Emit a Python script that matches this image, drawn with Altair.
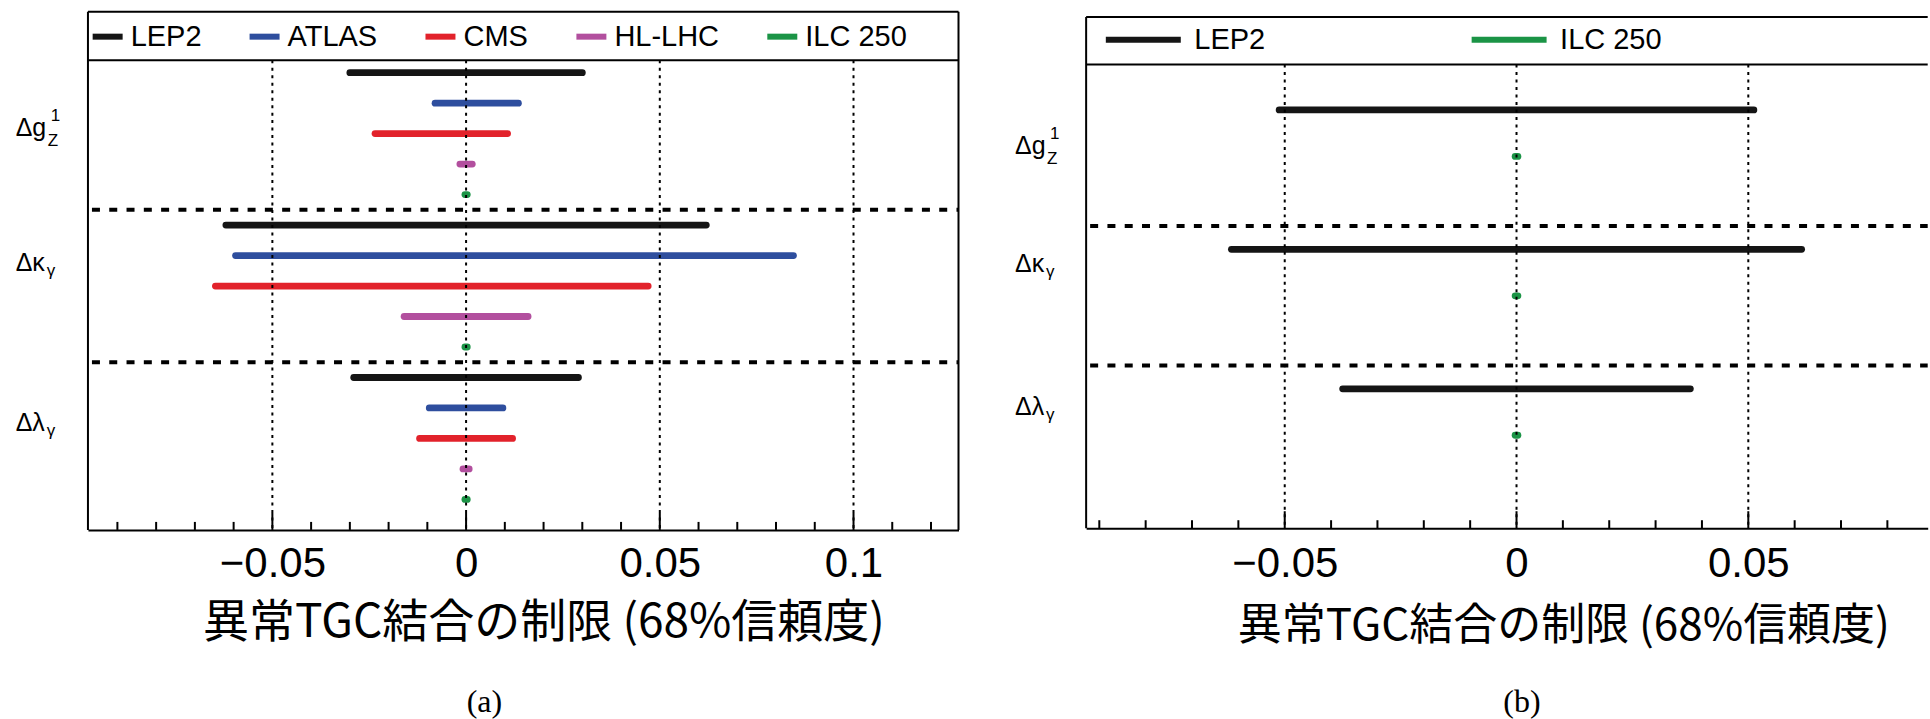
import altair as alt
import pandas as pd

# ---------------- data: 68% CL limits on anomalous TGCs ----------------
couplings = ["dg1z", "dkg", "dlg"]

experiments_a = ["LEP2", "ATLAS", "CMS", "HL-LHC", "ILC 250"]
colors_a = ["#151515", "#2e4e9e", "#e2222b", "#b24f9e", "#1b9446"]

# panel (a): lower / upper limit per experiment
dg1z_lo_a = [-0.0300, -0.0080, -0.0235, -0.0016, -0.0003]
dg1z_hi_a = [0.0300, 0.0135, 0.0107, 0.0016, 0.0003]
dkg_lo_a = [-0.0620, -0.0595, -0.0647, -0.0160, -0.0003]
dkg_hi_a = [0.0620, 0.0845, 0.0470, 0.0160, 0.0003]
dlg_lo_a = [-0.0290, -0.0095, -0.0120, -0.0008, -0.0003]
dlg_hi_a = [0.0290, 0.0095, 0.0120, 0.0008, 0.0003]

experiments_b = ["LEP2", "ILC 250"]
colors_b = ["#151515", "#1b9446"]

# panel (b)
dg1z_lo_b = [-0.0512, -0.0003]
dg1z_hi_b = [0.0512, 0.0003]
dkg_lo_b = [-0.0615, -0.0003]
dkg_hi_b = [0.0615, 0.0003]
dlg_lo_b = [-0.0375, -0.0003]
dlg_hi_b = [0.0375, 0.0003]

# axis ticks
major_a = [-0.05, 0, 0.05, 0.1]
minor_a = [-0.09, -0.08, -0.07, -0.06, -0.04, -0.03, -0.02, -0.01,
           0.01, 0.02, 0.03, 0.04, 0.06, 0.07, 0.08, 0.09, 0.11, 0.12]
major_b = [-0.05, 0, 0.05]
minor_b = [-0.09, -0.08, -0.07, -0.06, -0.04, -0.03, -0.02, -0.01,
           0.01, 0.02, 0.03, 0.04, 0.06, 0.07, 0.08]

XTITLE = "異常TGC結合の制限 (68%信頼度)"


def limits_frame(experiments, lows, highs, slots_per_group):
    rows = []
    for g, (lo_list, hi_list) in enumerate(zip(lows, highs)):
        for i, exp in enumerate(experiments):
            rows.append({
                "coupling": couplings[g],
                "experiment": exp,
                "lo": lo_list[i],
                "hi": hi_list[i],
                "row": g * slots_per_group + i + 1,
            })
    return pd.DataFrame(rows)


df_a = limits_frame(experiments_a, [dg1z_lo_a, dkg_lo_a, dlg_lo_a],
                    [dg1z_hi_a, dkg_hi_a, dlg_hi_a], 5)
df_b = limits_frame(experiments_b, [dg1z_lo_b, dkg_lo_b, dlg_lo_b],
                    [dg1z_hi_b, dkg_hi_b, dlg_hi_b], 3)

ONE = pd.DataFrame({"k": [0]})
SANS = "Liberation Sans"


def text_at(txt, x, y, size, font=SANS, align="left", baseline="alphabetic"):
    return alt.Chart(ONE).mark_text(
        text=txt, font=font, fontSize=size, color="black",
        align=align, baseline=baseline,
    ).encode(x=alt.value(x), y=alt.value(y))


def row_labels(x0, g_base, k_base, l_base):
    """Δg^1_Z, Δκ_γ, Δλ_γ drawn left of the frame."""
    return [
        text_at("Δg", x0, g_base, 25),
        text_at("1", x0 + 35, g_base - 15, 17),
        text_at("Z", x0 + 32, g_base + 10, 17),
        text_at("Δκ", x0, k_base, 25),
        text_at("γ", x0 + 31, k_base + 5, 17),
        text_at("Δλ", x0, l_base, 25),
        text_at("γ", x0 + 31, l_base + 5, 17),
    ]


def panel(df, experiments, colors, majors, minors, seps, cfg):
    W, H = cfg["width"], cfg["height"]
    xs = alt.Scale(domain=cfg["xdom"], nice=False, zero=False)
    ys = alt.Scale(domain=cfg["ydom"], reverse=True, nice=False, zero=False)

    xaxis = alt.Axis(
        values=majors, format="~g", ticks=False, tickSize=0, grid=False,
        domain=True, domainColor="black", domainWidth=2,
        labelFont=SANS, labelFontSize=42, labelColor="black",
        labelBaseline="alphabetic", labelPadding=cfg["label_pad"],
        labelFlush=False, labelOverlap=False,
        title=XTITLE, titleFont="Noto Sans CJK JP",
        titleFontSize=cfg["title_size"],
        titleFontWeight="normal", titleColor="black",
        titleX=cfg["title_x"], titleY=cfg["title_y"],
        titleBaseline="alphabetic", titleAlign="center",
    )
    legend = alt.Legend(
        orient="none", legendX=cfg["leg_x"], legendY=cfg["leg_y"],
        direction="horizontal", title=None, symbolType=cfg["sym_type"],
        symbolSize=900, symbolStrokeWidth=6,
        labelFont=SANS, labelFontSize=29, labelColor="black",
        labelOffset=cfg["leg_label_off"], columnPadding=cfg["leg_gap"],
        padding=0, labelLimit=400,
    )

    def xenc(field):
        return alt.X(field, scale=xs, axis=xaxis)

    bars = alt.Chart(df).mark_rule(strokeWidth=6.8, strokeCap="round").encode(
        x=xenc("lo:Q"),
        x2="hi:Q",
        y=alt.Y("row:Q", scale=ys, axis=None),
        color=alt.Color("experiment:N",
                        scale=alt.Scale(domain=experiments, range=colors),
                        legend=legend),
    )
    grid = alt.Chart(pd.DataFrame({"v": majors})).mark_rule(
        color="black", strokeWidth=2, strokeDash=[3, 4.5]
    ).encode(x=xenc("v:Q"), y=alt.value(cfg["leg_line"]), y2=alt.value(H))
    sep = alt.Chart(pd.DataFrame({"s": seps})).mark_rule(
        color="black", strokeWidth=4, strokeDash=[8, 9.3]
    ).encode(y=alt.Y("s:Q", scale=ys, axis=None),
             x=alt.value(4), x2=alt.value(W))
    tmin = alt.Chart(pd.DataFrame({"t": minors})).mark_rule(
        color="black", strokeWidth=2
    ).encode(x=xenc("t:Q"), y=alt.value(H), y2=alt.value(H - 8))
    tmaj = alt.Chart(pd.DataFrame({"t": majors})).mark_rule(
        color="black", strokeWidth=2
    ).encode(x=xenc("t:Q"), y=alt.value(H), y2=alt.value(H - 17))

    frame = [
        alt.Chart(ONE).mark_rule(color="black", strokeWidth=2).encode(
            x=alt.value(0), x2=alt.value(W), y=alt.value(cfg["top"])),
        alt.Chart(ONE).mark_rule(color="black", strokeWidth=2).encode(
            x=alt.value(0), x2=alt.value(W), y=alt.value(cfg["leg_line"])),
        alt.Chart(ONE).mark_rule(color="black", strokeWidth=2).encode(
            x=alt.value(0), y=alt.value(cfg["top"]), y2=alt.value(H)),
    ]
    if cfg["right_border"]:
        frame.append(alt.Chart(ONE).mark_rule(color="black", strokeWidth=2).encode(
            x=alt.value(W), y=alt.value(cfg["top"]), y2=alt.value(H)))

    labels = row_labels(cfg["lab_x"], *cfg["lab_y"])
    caption = text_at(cfg["caption"], cfg["cap_x"], cfg["cap_y"], 32,
                      font="Liberation Serif", align="center", baseline="middle")

    return alt.layer(bars, grid, sep, tmin, tmaj, *frame, *labels, caption).properties(
        width=W, height=H)


cfg_a = dict(width=871, height=518.5, xdom=[-0.0976, 0.1271], ydom=[-1, 16],
             top=0, leg_line=48.5, right_border=True,
             label_pad=47, title_size=46, title_x=455.7, title_y=107,
             leg_x=1.7, leg_y=7, sym_type="stroke", leg_label_off=5, leg_gap=36,
             lab_x=-72.3, lab_y=(124.5, 259.5, 419.5),
             caption="(a)", cap_x=396.7, cap_y=690.5)
# panel (b) legend uses a long stroke drawn from a unit-box path
cfg_b = dict(width=842, height=516.8, xdom=[-0.09284, 0.0887], ydom=[-1.114, 10],
             top=5.2, leg_line=52.8, right_border=False,
             label_pad=48.7, title_size=44, title_x=477.5, title_y=111,
             leg_x=39.2, leg_y=10, sym_type="M-2.5,0L2.5,0", leg_label_off=33,
             leg_gap=194,
             lab_x=-71.2, lab_y=(142.5, 260, 403.8),
             caption="(b)", cap_x=436, cap_y=690.5)

panel_a = panel(df_a, experiments_a, colors_a, major_a, minor_a, [5.5, 10.5], cfg_a)
panel_b = panel(df_b, experiments_b, colors_b, major_b, minor_b, [3.5, 6.5], cfg_b)

chart = alt.hconcat(panel_a, panel_b, spacing=127.7, bounds="flush").resolve_scale(
    color="independent", x="independent", y="independent"
).resolve_legend(color="independent").properties(
    padding={"left": 15, "top": 10.5, "right": 0, "bottom": 0},
    background="white",
).configure_view(stroke=None)

chart.save("out.html", embed_options={"renderer": "svg", "actions": False})
